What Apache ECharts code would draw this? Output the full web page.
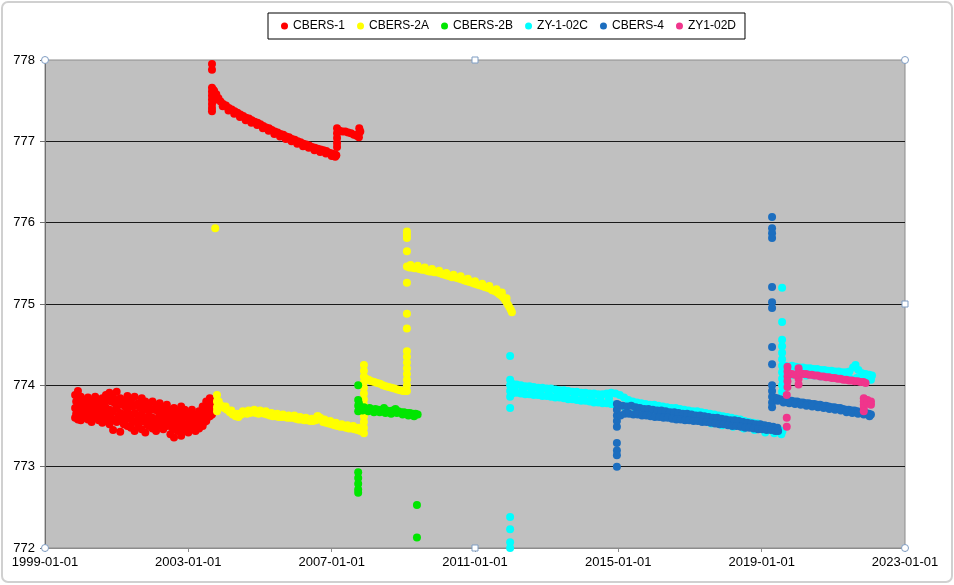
<!DOCTYPE html>
<html><head><meta charset="utf-8">
<script src="https://cdn.jsdelivr.net/npm/echarts@6/dist/echarts.min.js"></script>
<style>html,body{margin:0;padding:0;background:#fff}#c{width:954px;height:585px}</style>
</head><body><div id="c"></div>
<script>
// ---- data: [decimal year, altitude km] ----
const xTickLabels = ['1999-01-01','2003-01-01','2007-01-01','2011-01-01','2015-01-01','2019-01-01','2023-01-01'];
const seriesNames = ['CBERS-1','CBERS-2A','CBERS-2B','ZY-1-02C','CBERS-4','ZY1-02D'];

const cbers1 = [
[1999.84,773.88],[1999.84,773.72],[1999.84,773.60],[1999.92,773.93],[1999.92,773.78],[1999.92,773.58],
[2000.00,773.86],[2000.00,773.70],[2000.00,773.57],[2000.10,773.82],[2000.10,773.68],[2000.10,773.60],
[2000.20,773.85],[2000.20,773.72],[2000.20,773.58],[2000.30,773.80],[2000.30,773.66],[2000.30,773.55],
[2000.40,773.86],[2000.40,773.70],[2000.40,773.60],[2000.50,773.82],[2000.50,773.69],[2000.50,773.57],
[2000.60,773.84],[2000.60,773.66],[2000.60,773.54],[2000.70,773.88],[2000.70,773.72],[2000.70,773.58],
[2000.80,773.91],[2000.80,773.70],[2000.80,773.52],[2000.90,773.85],[2000.90,773.68],[2000.90,773.45],
[2001.00,773.92],[2001.00,773.72],[2001.00,773.55],[2001.10,773.84],[2001.10,773.66],[2001.10,773.43],
[2001.20,773.80],[2001.20,773.64],[2001.20,773.52],[2001.30,773.87],[2001.30,773.68],[2001.30,773.50],
[2001.40,773.82],[2001.40,773.62],[2001.40,773.48],[2001.50,773.86],[2001.50,773.66],[2001.50,773.44],
[2001.60,773.78],[2001.60,773.62],[2001.60,773.50],[2001.70,773.84],[2001.70,773.65],[2001.70,773.46],
[2001.80,773.80],[2001.80,773.60],[2001.80,773.42],[2001.90,773.76],[2001.90,773.62],[2001.90,773.50],
[2002.00,773.80],[2002.00,773.60],[2002.00,773.47],[2002.10,773.74],[2002.10,773.58],[2002.10,773.44],
[2002.20,773.78],[2002.20,773.62],[2002.20,773.52],[2002.30,773.72],[2002.30,773.57],[2002.30,773.46],
[2002.40,773.76],[2002.40,773.60],[2002.40,773.50],[2002.50,773.70],[2002.50,773.55],[2002.50,773.40],
[2002.60,773.72],[2002.60,773.56],[2002.60,773.36],[2002.70,773.68],[2002.70,773.54],[2002.70,773.44],
[2002.80,773.74],[2002.80,773.58],[2002.80,773.38],[2002.90,773.70],[2002.90,773.52],[2002.90,773.45],
[2003.00,773.66],[2003.00,773.54],[2003.00,773.42],[2003.10,773.70],[2003.10,773.56],[2003.10,773.46],
[2003.20,773.64],[2003.20,773.52],[2003.20,773.44],[2003.30,773.68],[2003.30,773.56],[2003.30,773.47],
[2003.40,773.74],[2003.40,773.60],[2003.40,773.50],[2003.50,773.80],[2003.50,773.66],[2003.50,773.56],
[2003.60,773.84],[2003.60,773.72],[2003.60,773.62],[2003.66,773.78],[2003.66,773.70],[2003.66,773.64],
[1999.87,773.80],[1999.87,773.65],[1999.96,773.84],[1999.96,773.66],[2000.05,773.78],[2000.05,773.63],
[2000.15,773.76],[2000.15,773.62],[2000.25,773.79],[2000.25,773.64],[2000.35,773.74],[2000.35,773.60],
[2000.45,773.78],[2000.45,773.64],[2000.55,773.75],[2000.55,773.62],[2000.65,773.77],[2000.65,773.61],
[2000.75,773.81],[2000.75,773.64],[2000.85,773.80],[2000.85,773.60],[2000.95,773.78],[2000.95,773.58],
[2001.05,773.82],[2001.05,773.62],[2001.15,773.76],[2001.15,773.56],[2001.25,773.73],[2001.25,773.58],
[2001.35,773.78],[2001.35,773.60],[2001.45,773.74],[2001.45,773.55],[2001.55,773.76],[2001.55,773.56],
[2001.65,773.72],[2001.65,773.55],[2001.75,773.74],[2001.75,773.56],[2001.85,773.70],[2001.85,773.52],
[2001.95,773.70],[2001.95,773.55],[2002.05,773.70],[2002.05,773.53],[2002.15,773.68],[2002.15,773.50],
[2002.25,773.70],[2002.25,773.56],[2002.35,773.66],[2002.35,773.52],[2002.45,773.68],[2002.45,773.55],
[2002.55,773.63],[2002.55,773.48],[2002.65,773.64],[2002.65,773.46],[2002.75,773.61],[2002.75,773.49],
[2002.85,773.66],[2002.85,773.48],[2002.95,773.62],[2002.95,773.48],[2003.05,773.61],[2003.05,773.49],
[2003.15,773.63],[2003.15,773.50],[2003.25,773.60],[2003.25,773.50],[2003.35,773.63],[2003.35,773.52],
[2003.45,773.68],[2003.45,773.55],[2003.55,773.74],[2003.55,773.61],[2003.63,773.78],[2003.63,773.67],
[2003.66,777.95],[2003.66,777.88],[2003.66,777.66],[2003.66,777.61],[2003.66,777.56],[2003.66,777.51],
[2003.66,777.46],[2003.66,777.41],[2003.66,777.37],[2003.70,777.63],[2003.70,777.58],[2003.70,777.50],
[2003.72,777.62],[2003.78,777.58],[2003.84,777.53],[2003.90,777.49],[2003.97,777.46],[2004.05,777.44],
[2004.13,777.41],[2004.21,777.39],[2004.29,777.37],[2004.37,777.35],[2004.45,777.33],[2004.53,777.31],
[2004.61,777.29],[2004.69,777.28],[2004.77,777.26],[2004.85,777.24],[2004.93,777.23],[2005.01,777.21],
[2005.09,777.19],[2005.17,777.17],[2005.25,777.16],[2005.33,777.14],[2005.41,777.12],[2005.49,777.11],
[2005.57,777.09],[2005.65,777.08],[2005.73,777.06],[2005.81,777.05],[2005.89,777.03],[2005.97,777.02],
[2006.05,777.00],[2006.13,776.99],[2006.21,776.97],[2006.29,776.96],[2006.37,776.95],[2006.45,776.93],
[2006.53,776.92],[2006.61,776.91],[2006.69,776.90],[2006.77,776.89],[2006.85,776.88],[2006.93,776.86],
[2007.01,776.85],[2007.09,776.84],[2007.13,776.83],
[2003.80,777.52],[2003.96,777.43],[2004.12,777.38],[2004.28,777.34],[2004.44,777.30],[2004.60,777.26],
[2004.76,777.23],[2004.92,777.20],[2005.08,777.16],[2005.24,777.13],[2005.40,777.09],[2005.56,777.06],
[2005.72,777.03],[2005.88,777.00],[2006.04,776.97],[2006.20,776.94],[2006.36,776.92],[2006.52,776.89],
[2006.68,776.87],[2006.84,776.85],[2007.00,776.82],[2007.10,776.81],
[2007.15,777.16],[2007.15,777.10],[2007.15,777.04],[2007.15,776.98],[2007.15,776.93],[2007.22,777.13],
[2007.30,777.12],[2007.38,777.12],[2007.46,777.11],[2007.54,777.10],[2007.62,777.08],[2007.70,777.07],
[2007.76,777.10],[2007.77,777.16],[2007.76,777.05],[2007.80,777.12]
];

const cbers2A = [
[2003.75,775.93],
[2003.80,773.88],[2003.80,773.80],[2003.80,773.73],[2003.80,773.68],
[2003.85,773.80],[2003.92,773.75],[2004.00,773.72],[2004.08,773.70],[2004.16,773.67],[2004.24,773.64],
[2004.32,773.62],[2004.40,773.61],[2004.48,773.64],[2004.56,773.66],[2004.64,773.65],[2004.72,773.66],
[2004.80,773.67],[2004.88,773.66],[2004.96,773.65],[2005.04,773.66],[2005.12,773.65],[2005.20,773.64],
[2005.28,773.63],[2005.36,773.62],[2005.44,773.62],[2005.52,773.61],[2005.60,773.61],[2005.68,773.61],
[2005.76,773.60],[2005.84,773.60],[2005.92,773.60],[2006.00,773.59],[2006.08,773.58],[2006.16,773.58],
[2006.24,773.57],[2006.32,773.57],[2006.40,773.56],[2006.48,773.56],[2006.56,773.57],[2006.62,773.62],
[2006.68,773.60],[2006.76,773.55],[2006.84,773.54],[2006.92,773.53],[2007.00,773.52],[2007.08,773.51],
[2007.16,773.50],[2007.24,773.49],[2007.32,773.49],[2007.40,773.48],[2007.48,773.47],[2007.56,773.47],
[2007.64,773.46],[2007.72,773.45],[2007.80,773.44],[2007.86,773.44],
[2004.04,773.74],[2004.20,773.69],[2004.36,773.65],[2004.52,773.68],[2004.68,773.69],[2004.84,773.70],
[2005.00,773.69],[2005.16,773.68],[2005.32,773.66],[2005.48,773.65],[2005.64,773.64],[2005.80,773.63],
[2005.96,773.63],[2006.12,773.61],[2006.28,773.60],[2006.44,773.59],[2006.60,773.62],[2006.80,773.58],
[2006.96,773.56],[2007.12,773.54],[2007.28,773.52],[2007.44,773.51],[2007.60,773.50],[2007.76,773.48],
[2007.90,773.41],[2007.90,773.48],[2007.90,773.55],[2007.90,773.62],[2007.90,773.69],[2007.90,773.76],
[2007.90,773.83],[2007.90,773.90],[2007.90,773.97],[2007.90,774.04],[2007.90,774.11],[2007.90,774.18],[2007.90,774.25],
[2007.96,774.08],[2008.03,774.07],[2008.11,774.05],[2008.19,774.04],[2008.27,774.03],[2008.35,774.02],
[2008.43,774.00],[2008.51,773.99],[2008.59,773.98],[2008.67,773.97],[2008.75,773.96],[2008.83,773.95],
[2008.91,773.94],[2008.99,773.93],[2009.07,773.93],
[2009.10,773.93],[2009.10,774.00],[2009.10,774.07],[2009.10,774.14],[2009.10,774.21],[2009.10,774.28],
[2009.10,774.35],[2009.10,774.42],[2009.10,774.70],[2009.10,774.88],[2009.10,775.26],[2009.10,775.65],
[2009.10,775.81],[2009.10,775.85],[2009.10,775.89],
[2009.10,775.46],[2009.17,775.45],[2009.24,775.45],[2009.31,775.44],[2009.38,775.44],[2009.45,775.43],
[2009.52,775.42],[2009.59,775.42],[2009.66,775.41],[2009.73,775.40],[2009.80,775.40],[2009.87,775.39],
[2009.94,775.39],[2010.01,775.38],[2010.08,775.37],[2010.15,775.36],[2010.22,775.35],[2010.29,775.34],
[2010.36,775.33],[2010.43,775.33],[2010.50,775.32],[2010.57,775.31],[2010.64,775.30],[2010.71,775.29],
[2010.78,775.28],[2010.85,775.27],[2010.92,775.26],[2010.99,775.25],[2011.06,775.24],[2011.13,775.23],
[2011.20,775.22],[2011.27,775.21],[2011.34,775.20],[2011.41,775.19],[2011.48,775.17],[2011.55,775.16],
[2011.62,775.14],[2011.68,775.12],[2011.74,775.10],[2011.79,775.08],[2011.84,775.05],[2011.88,775.02],
[2011.92,774.99],[2011.96,774.96],[2012.00,774.93],[2012.03,774.90],
[2009.20,775.48],[2009.40,775.47],[2009.60,775.45],[2009.80,775.43],[2010.00,775.41],[2010.20,775.38],
[2010.40,775.36],[2010.60,775.34],[2010.80,775.31],[2011.00,775.28],[2011.20,775.25],[2011.40,775.22],
[2011.60,775.18],[2011.75,775.14],[2011.88,775.07]
];

const cbers2B = [
[2007.74,774.00],[2007.74,773.82],[2007.74,773.75],[2007.74,773.68],
[2007.74,772.93],[2007.74,772.86],[2007.74,772.79],[2007.74,772.72],[2007.74,772.68],
[2007.76,773.78],[2007.82,773.72],[2007.90,773.73],[2007.98,773.71],[2008.06,773.72],[2008.14,773.70],
[2008.22,773.71],[2008.30,773.70],[2008.38,773.69],[2008.46,773.72],[2008.54,773.69],[2008.62,773.68],
[2008.70,773.69],[2008.78,773.71],[2008.86,773.68],[2008.94,773.67],[2009.02,773.67],[2009.10,773.66],
[2009.18,773.66],[2009.26,773.65],[2009.34,773.65],[2009.40,773.64],
[2007.86,773.69],[2008.02,773.68],[2008.18,773.67],[2008.34,773.67],[2008.50,773.66],[2008.66,773.65],
[2008.82,773.66],[2008.98,773.64],[2009.14,773.63],[2009.30,773.62],
[2009.38,772.53],[2009.38,772.13]
];

const zy102C = [
[2011.98,774.36],[2011.98,774.07],[2011.98,774.00],[2011.98,773.93],[2011.98,773.86],[2011.98,773.72],
[2011.98,772.38],[2011.98,772.23],[2011.98,772.07],[2011.98,772.00],
[2012.04,774.02],[2012.16,774.01],[2012.28,774.00],[2012.40,773.99],[2012.52,773.99],[2012.64,773.98],
[2012.76,773.97],[2012.88,773.97],[2013.00,773.96],[2013.12,773.96],[2013.24,773.95],[2013.36,773.94],
[2013.48,773.94],[2013.60,773.93],[2013.72,773.92],[2013.84,773.92],[2013.96,773.91],[2014.08,773.91],
[2014.20,773.90],[2014.32,773.90],[2014.44,773.89],[2014.56,773.89],[2014.68,773.90],[2014.80,773.91],
[2014.92,773.90],[2015.04,773.88],[2015.16,773.85],[2015.28,773.82],[2015.40,773.80],[2015.52,773.79],
[2015.64,773.78],[2015.76,773.77],[2015.88,773.76],[2016.00,773.76],[2016.12,773.75],[2016.24,773.74],
[2016.36,773.73],[2016.48,773.72],[2016.60,773.72],[2016.72,773.71],[2016.84,773.70],[2016.96,773.69],
[2017.08,773.68],[2017.20,773.68],[2017.32,773.67],[2017.44,773.66],[2017.56,773.65],[2017.68,773.64],
[2017.80,773.63],[2017.92,773.62],[2018.04,773.61],[2018.16,773.60],[2018.28,773.59],[2018.40,773.58],
[2018.52,773.56],[2018.64,773.55],[2018.76,773.54],[2018.88,773.53],[2019.00,773.51],[2019.12,773.50],
[2019.24,773.48],[2019.36,773.46],[2019.48,773.45],[2019.58,773.44],
[2012.10,773.96],[2012.34,773.95],[2012.58,773.94],[2012.82,773.93],[2013.06,773.92],[2013.30,773.90],
[2013.54,773.89],[2013.78,773.88],[2014.02,773.86],[2014.26,773.85],[2014.50,773.84],[2014.74,773.84],
[2012.04,773.90],[2012.16,773.91],[2012.28,773.90],[2012.40,773.89],[2012.52,773.89],[2012.64,773.88],
[2012.76,773.88],[2012.88,773.87],[2013.00,773.87],[2013.12,773.86],[2013.24,773.85],[2013.36,773.85],
[2013.48,773.84],[2013.60,773.83],[2013.72,773.83],[2013.84,773.82],[2013.96,773.81],[2014.08,773.81],
[2014.20,773.80],[2014.32,773.79],[2014.44,773.79],[2014.56,773.78],[2014.68,773.78],[2014.80,773.77],
[2014.92,773.76],[2015.20,773.72],[2015.50,773.69],[2015.80,773.66],[2016.10,773.64],[2016.40,773.62],
[2016.70,773.60],[2017.00,773.58],[2017.30,773.56],[2017.60,773.53],[2017.90,773.51],[2018.20,773.49],
[2018.50,773.47],[2018.80,773.45],[2019.10,773.42],[2019.35,773.41],[2019.55,773.40],
[2019.57,775.20],[2019.57,774.78],[2019.57,774.56],[2019.57,774.48],[2019.57,774.40],[2019.57,774.32],
[2019.57,774.24],[2019.57,774.16],[2019.57,774.08],[2019.57,774.00],[2019.57,773.92],
[2019.65,774.24],[2019.75,774.23],[2019.85,774.24],[2019.95,774.23],[2020.05,774.22],[2020.15,774.22],
[2020.25,774.21],[2020.35,774.21],[2020.45,774.20],[2020.55,774.20],[2020.65,774.19],[2020.75,774.19],
[2020.85,774.18],[2020.95,774.18],[2021.05,774.17],[2021.15,774.17],[2021.25,774.16],[2021.35,774.16],
[2021.45,774.17],[2021.55,774.22],[2021.62,774.25],[2021.70,774.19],[2021.80,774.15],[2021.90,774.14],
[2022.00,774.13],[2022.08,774.12],
[2019.65,774.14],[2019.85,774.13],[2020.05,774.13],[2020.25,774.12],[2020.45,774.12],[2020.65,774.11],
[2020.85,774.11],[2021.05,774.10],[2021.25,774.10],[2021.45,774.09],[2021.65,774.09],[2021.85,774.08],[2022.05,774.07]
];

const cbers4 = [
[2014.96,773.29],[2014.96,773.20],[2014.96,773.14],[2014.96,773.00],[2014.96,773.49],[2014.96,773.56],
[2014.96,773.63],[2014.96,773.70],[2014.96,773.77],
[2015.00,773.76],[2015.12,773.75],[2015.24,773.74],[2015.36,773.75],[2015.48,773.73],[2015.60,773.72],
[2015.72,773.71],[2015.84,773.71],[2015.96,773.70],[2016.08,773.69],[2016.20,773.69],[2016.32,773.68],
[2016.44,773.67],[2016.56,773.67],[2016.68,773.66],[2016.80,773.65],[2016.92,773.65],[2017.04,773.64],
[2017.16,773.63],[2017.28,773.63],[2017.40,773.62],[2017.52,773.61],[2017.64,773.60],[2017.76,773.60],
[2017.88,773.59],[2018.00,773.58],[2018.12,773.57],[2018.24,773.57],[2018.36,773.56],[2018.48,773.55],
[2018.60,773.54],[2018.72,773.53],[2018.84,773.52],[2018.96,773.52],[2019.08,773.51],[2019.20,773.50],
[2019.32,773.49],[2019.44,773.48],
[2015.06,773.63],[2015.18,773.65],[2015.30,773.65],[2015.42,773.64],[2015.54,773.64],[2015.66,773.63],
[2015.78,773.63],[2015.90,773.62],[2016.02,773.61],[2016.14,773.61],[2016.26,773.60],[2016.38,773.60],
[2016.50,773.59],[2016.62,773.58],[2016.74,773.58],[2016.86,773.57],[2016.98,773.57],[2017.10,773.56],
[2017.22,773.56],[2017.34,773.55],[2017.46,773.55],[2017.58,773.54],[2017.70,773.53],[2017.82,773.52],
[2017.94,773.52],[2018.06,773.51],[2018.18,773.50],[2018.30,773.50],[2018.42,773.49],[2018.54,773.48],
[2018.66,773.48],[2018.78,773.47],[2018.90,773.46],[2019.02,773.46],[2019.14,773.45],[2019.26,773.45],
[2019.38,773.44],[2019.46,773.44],
[2019.29,776.07],[2019.29,775.93],[2019.29,775.87],[2019.29,775.81],[2019.29,775.21],[2019.29,775.02],
[2019.29,774.95],[2019.29,774.47],[2019.29,774.26],[2019.29,774.00],[2019.29,773.93],[2019.29,773.86],
[2019.29,773.79],[2019.29,773.73],
[2019.35,773.85],[2019.43,773.84],[2019.51,773.83],[2019.59,773.82],[2019.67,773.82],[2019.75,773.81],
[2019.83,773.81],[2019.91,773.80],[2019.99,773.80],[2020.07,773.79],[2020.15,773.79],[2020.23,773.78],
[2020.31,773.78],[2020.39,773.77],[2020.47,773.77],[2020.55,773.76],[2020.63,773.76],[2020.71,773.75],
[2020.79,773.75],[2020.87,773.74],[2020.95,773.73],[2021.03,773.73],[2021.11,773.72],[2021.19,773.72],
[2021.27,773.71],[2021.35,773.70],[2021.43,773.70],[2021.51,773.69],[2021.59,773.69],[2021.67,773.68],
[2021.75,773.67],[2021.83,773.67],[2021.91,773.66],[2021.99,773.65],[2022.05,773.64],
[2019.45,773.81],[2019.61,773.79],[2019.77,773.78],[2019.93,773.77],[2020.09,773.76],[2020.25,773.75],
[2020.41,773.74],[2020.57,773.73],[2020.73,773.72],[2020.89,773.71],[2021.05,773.70],[2021.21,773.69],
[2021.37,773.67],[2021.53,773.66],[2021.69,773.65],[2021.85,773.64],[2022.01,773.62]
];

const zy102D = [
[2019.70,773.60],[2019.70,773.49],[2019.70,773.88],
[2019.72,774.23],[2019.72,774.17],[2019.72,774.11],[2019.72,774.05],[2019.72,773.98],
[2020.03,774.21],[2020.03,774.15],[2020.03,774.08],[2020.03,774.01],
[2019.76,774.14],[2019.84,774.14],[2019.92,774.13],[2020.00,774.13],[2020.08,774.15],[2020.16,774.14],
[2020.24,774.14],[2020.32,774.13],[2020.40,774.13],[2020.48,774.12],[2020.56,774.12],[2020.64,774.11],
[2020.72,774.11],[2020.80,774.10],[2020.88,774.10],[2020.96,774.09],[2021.04,774.09],[2021.12,774.08],
[2021.20,774.08],[2021.28,774.07],[2021.36,774.07],[2021.44,774.06],[2021.52,774.06],[2021.60,774.05],
[2021.68,774.05],[2021.76,774.04],[2021.84,774.04],[2021.90,774.03],
[2021.85,773.84],[2021.85,773.80],[2021.85,773.76],[2021.85,773.72],[2021.85,773.68],
[2021.95,773.82],[2021.95,773.78],[2022.05,773.80],[2022.05,773.76]
];

const seriesData = [cbers1, cbers2A, cbers2B, zy102C, cbers4, zy102D];
const seriesColors = ['#FF0000','#FFFF00','#00E600','#00FFFF','#1C6EBF','#F0358C'];

// ---- chart ----
const DAYS_PER_YEAR = 365.25;
const toDays = y => (y - 1999) * DAYS_PER_YEAR;
const GRID = {left: 45, top: 60, right: 49, bottom: 37};
const W = 954, H = 585;
const gx0 = GRID.left, gx1 = W - GRID.right, gy0 = GRID.top, gy1 = H - GRID.bottom;

const chart = echarts.init(document.getElementById('c'), null, {renderer: 'canvas'});
const handle = (cx, cy, sq) => sq
  ? {type: 'rect', shape: {x: cx - 3, y: cy - 3, width: 6, height: 6}, style: {fill: '#fff', stroke: '#7f9dc3', lineWidth: 1}, z: 100}
  : {type: 'circle', shape: {cx: cx, cy: cy, r: 3.5}, style: {fill: '#fff', stroke: '#7f9dc3', lineWidth: 1}, z: 100};

chart.setOption({
  animation: false,
  backgroundColor: '#fff',
  textStyle: {fontFamily: 'Liberation Sans, Arial, sans-serif'},
  graphic: [
    {type: 'rect', shape: {x: 2, y: 2, width: W - 4, height: H - 5, r: 6}, style: {fill: 'none', stroke: '#d0d0d0', lineWidth: 2}, z: -10, silent: true},
    handle(gx0, gy0), handle(gx1, gy0), handle(gx0, gy1), handle(gx1, gy1),
    handle((gx0 + gx1) / 2, gy0, true), handle((gx0 + gx1) / 2, gy1, true), handle(gx1, (gy0 + gy1) / 2, true)
  ],
  legend: {
    data: seriesNames,
    left: 268, top: 13,
    icon: 'circle', itemWidth: 7, itemHeight: 7, itemGap: 12,
    padding: [7, 9, 7, 13],
    borderColor: '#000', borderWidth: 1, backgroundColor: '#fff',
    textStyle: {fontSize: 12, color: '#000', fontFamily: 'Liberation Sans, Arial, sans-serif'}
  },
  grid: {left: GRID.left, top: GRID.top, right: GRID.right, bottom: GRID.bottom, show: true,
         backgroundColor: '#C0C0C0', borderColor: '#8c8c8c', borderWidth: 1, containLabel: false},
  xAxis: {
    type: 'value', min: 0, max: toDays(2023), interval: 1461,
    axisLine: {show: true, lineStyle: {color: '#8c8c8c'}},
    axisTick: {show: true, length: 4, lineStyle: {color: '#8c8c8c'}},
    splitLine: {show: false},
    axisLabel: {fontSize: 13, color: '#000', margin: 8,
      formatter: v => xTickLabels[Math.round(v / 1461)] || ''}
  },
  yAxis: {
    type: 'value', min: 772, max: 778, interval: 1,
    axisLine: {show: true, lineStyle: {color: '#6f6f6f'}},
    axisTick: {show: true, length: 5, lineStyle: {color: '#6f6f6f'}},
    splitLine: {show: true, showMinLine: false, showMaxLine: false, lineStyle: {color: '#1a1a1a', width: 1}},
    axisLabel: {fontSize: 13, color: '#000', margin: 10}
  },
  series: seriesNames.map((name, i) => ({
    name: name, type: 'scatter', symbol: 'circle', symbolSize: 8,
    itemStyle: {color: seriesColors[i], opacity: 1},
    emphasis: {disabled: true},
    data: seriesData[i].map(p => [toDays(p[0]), p[1]])
  }))
});
</script></body></html>
